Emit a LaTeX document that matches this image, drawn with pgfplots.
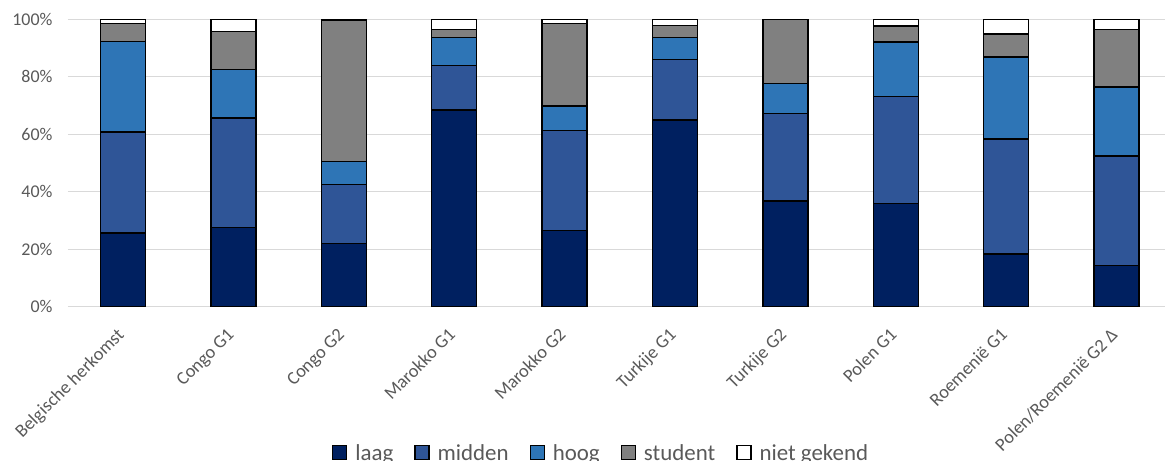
\documentclass[border=0pt]{standalone}
\usepackage{fontspec}
\setmainfont{Carlito}
\usepackage{pgfplots}
\usepackage{pgfplotstable}
\pgfplotsset{compat=1.18}
\definecolor{laag}{HTML}{002060}
\definecolor{midden}{HTML}{2F5597}
\definecolor{hoog}{HTML}{2E75B6}
\definecolor{student}{HTML}{808080}
\definecolor{txt}{HTML}{595959}
\definecolor{gridc}{HTML}{D9D9D9}
\pgfplotstableread{
x laag midden hoog student niet
0 25.6 35.2 31.4 6.4 1.4
1 27.5 38.1 17.0 13.1 4.3
2 22.1 20.4 8.0 49.0 0.5
3 68.5 15.5 9.7 2.8 3.5
4 26.5 34.9 8.4 28.8 1.4
5 65.0 21.1 7.6 4.2 2.1
6 36.8 30.5 10.4 22.3 0.0
7 35.9 37.2 19.0 5.5 2.4
8 18.3 40.0 28.5 8.0 5.2
9 14.3 38.2 24.0 20.0 3.5
}\datatable
\begin{document}
\begin{tikzpicture}
\begin{axis}[
  scale only axis, width=1097bp, height=287.5bp,
  xmin=-0.498, xmax=9.439, ymin=0, ymax=100,
  ybar stacked, bar width=45bp,
  axis line style={draw=none}, major tick length=0pt,
  ytick={0,20,40,60,80,100},
  yticklabel={\pgfmathprintnumber{\tick}\%},
  ymajorgrids, major grid style={draw=gridc, line width=1.3bp},
  xtick={0,...,9},
  xticklabels={Belgische herkomst, Congo G1, Congo G2, Marokko G1, Marokko G2, Turkije G1, Turkije G2, Polen G1, Roemenië G1, Polen/Roemenië G2 Δ},
  xticklabel style={xshift=-7bp, yshift=-20bp, rotate=45, anchor=north east, inner sep=0pt, font=\fontsize{18.5}{20}\selectfont, text=txt},
  yticklabel style={font=\fontsize{18}{20}\selectfont, text=txt, xshift=-12bp},
  /pgf/number format/assume math mode=true,
  legend style={at={(0.486,-0.508)}, anchor=center, draw=none, fill=none,
    font=\fontsize{23}{25}\selectfont, text=txt, legend columns=-1,
    /tikz/every odd column/.append style={column sep=6bp},
    /tikz/every even column/.append style={column sep=19bp}},
  legend image code/.code={\draw[#1, line width=1.2bp] (0bp,-7bp) rectangle (14bp,7bp);},
  every axis plot/.append style={draw=black, line width=1.5bp},
]
\addplot[fill=laag] table[x=x, y=laag] {\datatable};
\addplot[fill=midden] table[x=x, y=midden] {\datatable};
\addplot[fill=hoog] table[x=x, y=hoog] {\datatable};
\addplot[fill=student] table[x=x, y=student] {\datatable};
\addplot[fill=white] table[x=x, y=niet] {\datatable};
\legend{laag, midden, hoog, student, niet gekend}
\end{axis}
\pgfresetboundingbox
\path[use as bounding box] (current axis.south west) ++(-68bp,-154.2bp) rectangle ++(1165bp,461bp);
\end{tikzpicture}
\end{document}
